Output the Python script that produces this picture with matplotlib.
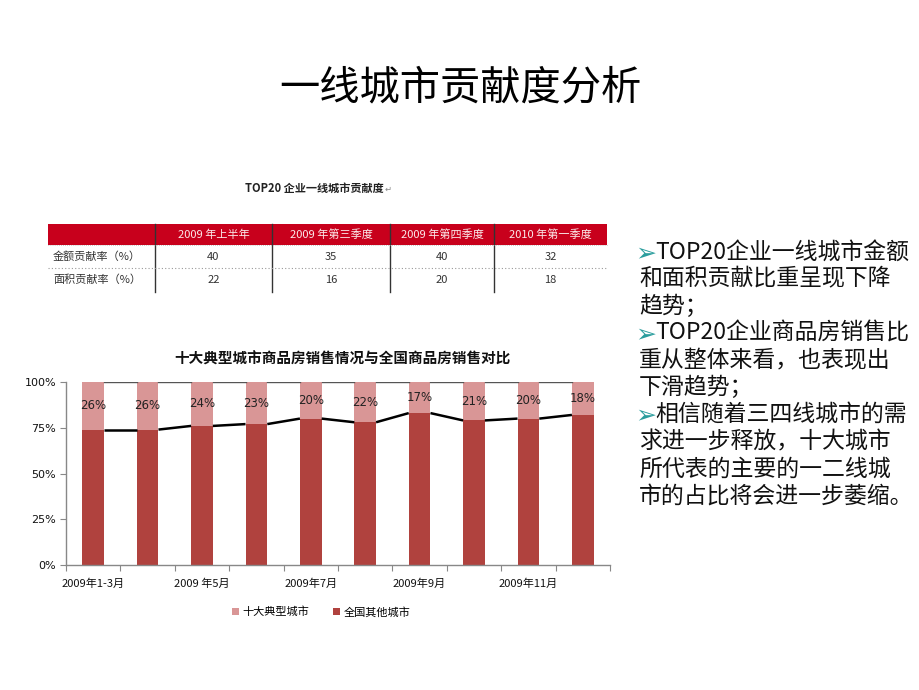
import matplotlib
matplotlib.use('Agg')
import matplotlib.pyplot as plt
from matplotlib.patches import Rectangle
import numpy as np

plt.rcParams['font.family'] = ['Noto Sans CJK SC', 'DejaVu Sans']

# ---------------- data ----------------
slide_title = "一线城市贡献度分析"
table_title = "TOP20 企业一线城市贡献度"
table_cols = ["2009 年上半年", "2009 年第三季度", "2009 年第四季度", "2010 年第一季度"]
table_rows = ["金额贡献率（%）", "面积贡献率（%）"]
amount_share = [40, 35, 40, 32]
area_share = [22, 16, 20, 18]

chart_title = "十大典型城市商品房销售情况与全国商品房销售对比"
months = ["2009年1-3月", "2009年4月", "2009 年5月", "2009年6月", "2009年7月",
          "2009年8月", "2009年9月", "2009年10月", "2009年11月", "2009年12月"]
top10_share = [26, 26, 24, 23, 20, 22, 17, 21, 20, 18]
other_share = [74, 74, 76, 77, 80, 78, 83, 79, 80, 82]
series_names = ["十大典型城市", "全国其他城市"]
y_ticks = [0, 25, 50, 75, 100]

bullet_lines = [
    ("➢", "TOP20企业一线城市金额"),
    ("", "和面积贡献比重呈现下降"),
    ("", "趋势；"),
    ("➢", "TOP20企业商品房销售比"),
    ("", "重从整体来看，也表现出"),
    ("", "下滑趋势；"),
    ("➢", "相信随着三四线城市的需"),
    ("", "求进一步释放，十大城市"),
    ("", "所代表的主要的一二线城"),
    ("", "市的占比将会进一步萎缩。"),
]

# ---------------- styles ----------------
W, H = 920, 690
PINK = '#d99696'
DARK = '#b0423e'
RED = '#c8001c'
TEAL = '#2a9d9d'

fig = plt.figure(figsize=(W / 100, H / 100), dpi=100)

# overlay axes in pixel coordinates for slide elements
ov = fig.add_axes([0, 0, 1, 1])
ov.set_xlim(0, W)
ov.set_ylim(H, 0)
ov.axis('off')

# slide title
ov.text(460, 88, slide_title, fontsize=29, ha='center', va='center', color='#000')

# table title
ov.text(314, 188, table_title, fontsize=8, fontweight='bold', ha='center', va='center',
        color='#222')
ov.text(388, 189, "↵", fontsize=6, ha='center', va='center', color='#888',
        family=['DejaVu Sans'])

# table
col_edges = [48, 155, 272, 390, 494, 607]
row_edges = [224, 245, 268, 292]
ov.add_patch(Rectangle((col_edges[0], row_edges[0]), col_edges[-1] - col_edges[0],
                       row_edges[1] - row_edges[0], facecolor=RED, edgecolor='none'))
for xe in col_edges[1:-1]:
    ov.plot([xe, xe], [row_edges[0], row_edges[-1]], color='#333', lw=1)
ov.plot([col_edges[0], col_edges[-1]], [row_edges[2], row_edges[2]], color='#999', lw=0.8,
        ls=(0, (1, 2)))
ov.plot([col_edges[0], col_edges[-1]], [row_edges[1], row_edges[1]], color='#999', lw=0.5,
        ls=(0, (1, 2)))
for j, c in enumerate(table_cols):
    cx = (col_edges[j + 1] + col_edges[j + 2]) / 2
    ov.text(cx, (row_edges[0] + row_edges[1]) / 2, c, fontsize=8, color='#fbeaea',
            ha='center', va='center')
for i, (lab, vals) in enumerate(zip(table_rows, [amount_share, area_share])):
    cy = (row_edges[i + 1] + row_edges[i + 2]) / 2
    ov.text(53, cy, lab, fontsize=8, color='#333', ha='left', va='center')
    for j, v in enumerate(vals):
        cx = (col_edges[j + 1] + col_edges[j + 2]) / 2
        ov.text(cx, cy, str(v), fontsize=8, color='#333', ha='center', va='center')

# chart title
ov.text(342, 359, chart_title, fontsize=10.5, fontweight='bold', ha='center', va='center',
        color='#111')

# bullets
for i, (mark, txt) in enumerate(bullet_lines):
    y = 252 + 27.1 * i
    if mark:
        ov.text(635, y + 1, mark, fontsize=18, color=TEAL, ha='left', va='center',
                family=['DejaVu Sans'])
        ov.text(655, y, txt, fontsize=16.5, color='#111', ha='left', va='center')
    else:
        ov.text(639, y, txt, fontsize=16.5, color='#111', ha='left', va='center')

# ---------------- chart ----------------
ax = fig.add_axes([66 / W, (H - 565) / H, 544 / W, 183 / H])
ax.patch.set_alpha(0)
x = np.arange(len(months))
bw = 0.4
b_other = ax.bar(x, other_share, bw, color=DARK, zorder=2)
b_top = ax.bar(x, top10_share, bw, bottom=other_share, color=PINK, zorder=2)

for i in range(len(x) - 1):
    ax.plot([x[i] + bw / 2, x[i + 1] - bw / 2], [other_share[i], other_share[i + 1]],
            color='#000', lw=1.8, zorder=3, solid_capstyle='butt')
    tops = [other_share[i] + top10_share[i], other_share[i + 1] + top10_share[i + 1]]
    ax.plot([x[i] + bw / 2, x[i + 1] - bw / 2], tops, color='#555', lw=1.0, zorder=3)

for i in range(len(x)):
    ax.text(x[i], other_share[i] + top10_share[i] / 2, f"{top10_share[i]}%",
            ha='center', va='center', fontsize=8.5, color='#222', family=['DejaVu Sans'],
            zorder=4)

ax.set_xlim(-0.5, len(x) - 0.5)
ax.set_ylim(0, 100)
ax.set_xticks(np.arange(-0.5, len(x), 1))
ax.set_xticklabels([])
ax.set_xticks(x[::2], minor=True)
ax.set_xticklabels(months[::2], minor=True, fontsize=8, color='#111')
ax.tick_params(axis='x', which='major', length=4, direction='out', color='#888')
ax.tick_params(axis='x', which='minor', length=0, pad=10)
ax.set_yticks(y_ticks)
ax.set_yticklabels([f"{v}%" for v in y_ticks], fontsize=8, color='#111',
                   family=['DejaVu Sans'])
ax.tick_params(axis='y', length=4, direction='out', color='#888', pad=3)
for s in ['top', 'right']:
    ax.spines[s].set_visible(False)
for s in ['left', 'bottom']:
    ax.spines[s].set_color('#888')
    ax.spines[s].set_linewidth(1)

fig.legend(handles=[b_top, b_other], labels=series_names, loc='center',
           bbox_to_anchor=(321 / W, 1 - 612 / H), ncol=2, frameon=False,
           handlelength=0.6, handleheight=0.6, handletextpad=0.3, columnspacing=2.2,
           fontsize=8)

fig.savefig('out.png', dpi=100, facecolor='white')
